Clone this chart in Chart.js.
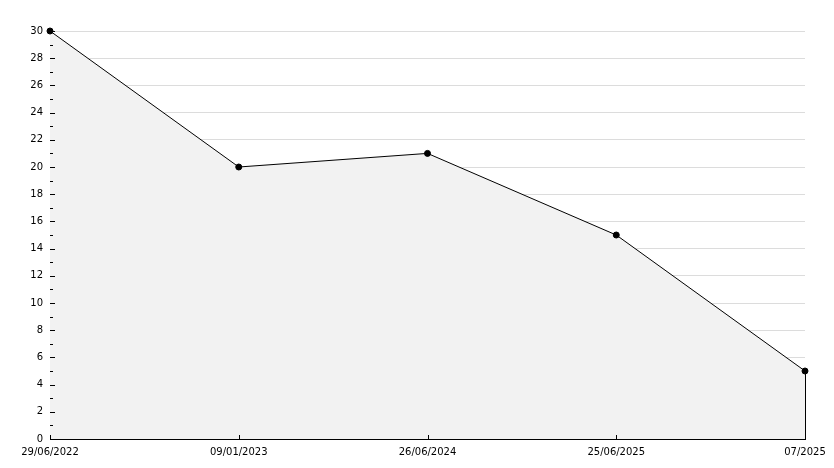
<!DOCTYPE html>
<html>
<head>
<meta charset="utf-8">
<script src="https://cdn.jsdelivr.net/npm/chart.js@4"></script>
<style>
html,body{margin:0;padding:0;background:#fff;}
#wrap{width:834px;height:468px;}
</style>
</head>
<body>
<div id="wrap"><canvas id="c" width="834" height="468"></canvas></div>
<script>
const categories = ["29/06/2022", "09/01/2023", "26/06/2024", "25/06/2025", "07/2025"];
const values = [30, 20, 21, 15, 5];
const yTicks = [0, 2, 4, 6, 8, 10, 12, 14, 16, 18, 20, 22, 24, 26, 28, 30];
const yMinorTicks = [1, 3, 5, 7, 9, 11, 13, 15, 17, 19, 21, 23, 25, 27, 29];

const tickPlugin = {
  id: 'innerTicks',
  afterDraw(chart) {
    const ctx = chart.ctx;
    const x = chart.scales.x, y = chart.scales.y;
    ctx.save();
    ctx.strokeStyle = '#000';
    ctx.lineWidth = 1;
    ctx.beginPath();
    yTicks.forEach(v => {
      const py = Math.round(y.getPixelForValue(v)) + 0.5;
      ctx.moveTo(x.left, py); ctx.lineTo(x.left + 5, py);
    });
    yMinorTicks.forEach(v => {
      const py = Math.round(y.getPixelForValue(v)) + 0.5;
      ctx.moveTo(x.left, py); ctx.lineTo(x.left + 3, py);
    });
    categories.forEach((c, i) => {
      const px = Math.round(x.getPixelForValue(i)) + 0.5;
      ctx.moveTo(px, y.bottom); ctx.lineTo(px, y.bottom - 4);
    });
    const last = values.length - 1;
    const lx = Math.round(x.getPixelForValue(last)) + 0.5;
    ctx.moveTo(lx, y.getPixelForValue(values[last]));
    ctx.lineTo(lx, y.bottom);
    ctx.stroke();
    ctx.restore();
  }
};

new Chart(document.getElementById('c'), {
  type: 'line',
  data: {
    labels: categories,
    datasets: [{
      data: values,
      borderColor: '#000',
      borderWidth: 1,
      backgroundColor: '#f2f2f2',
      fill: 'origin',
      tension: 0,
      clip: false,
      pointRadius: 3,
      pointBackgroundColor: '#000',
      pointBorderColor: '#000',
      pointBorderWidth: 1
    }]
  },
  options: {
    responsive: false,
    animation: false,
    devicePixelRatio: 1,
    layout: { padding: { left: 0, right: 29, top: 31, bottom: 0 } },
    plugins: { legend: { display: false }, tooltip: { enabled: false } },
    font: { family: 'DejaVu Sans', size: 10 },
    scales: {
      x: {
        type: 'category',
        offset: false,
        grid: { display: false, drawTicks: false },
        border: { display: true, color: '#000', width: 1 },
        ticks: { color: '#000', padding: 7, maxRotation: 0, autoSkip: false, font: { family: 'DejaVu Sans', size: 10 } },
        afterFit(s) { s.height = 29; }
      },
      y: {
        min: 0, max: 30,
        grid: { color: '#dcdcdc', lineWidth: 1, drawTicks: false },
        border: { display: true, color: '#000', width: 1 },
        ticks: { stepSize: 2, color: '#000', padding: 7, font: { family: 'DejaVu Sans', size: 10 } },
        afterFit(s) { s.width = 50; }
      }
    }
  },
  plugins: [tickPlugin]
});
</script>
</body>
</html>
